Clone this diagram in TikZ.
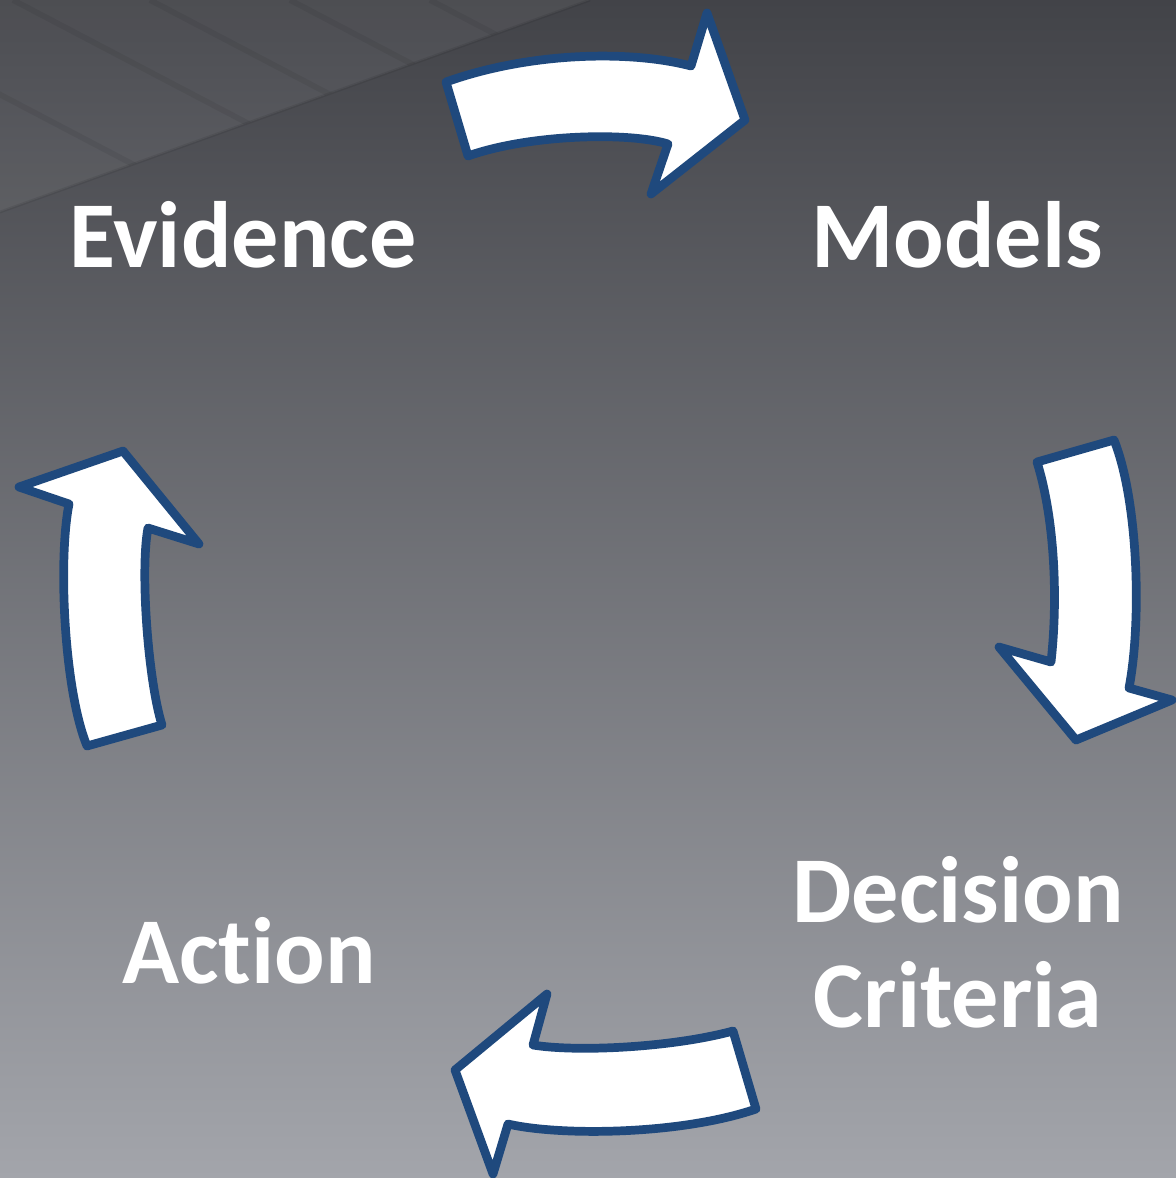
\documentclass[tikz,border=0pt]{standalone}
\usepackage{fontspec}
\setmainfont{Carlito}[Ligatures=NoCommon]
\usetikzlibrary{shadows}

\definecolor{arrowblue}{RGB}{31,73,125}
\definecolor{bgtop}{RGB}{66,67,72}
\definecolor{bgmid}{RGB}{124,126,132}
\definecolor{bgbot}{RGB}{163,165,171}

\tikzset{
  cyclearrow/.style={fill=white, draw=arrowblue, line width=6.2pt, line join=round,
    drop shadow={opacity=0.3, shadow xshift=2pt, shadow yshift=-2pt}},
  steplabel/.style={text=white, font=\bfseries\fontsize{67}{74}\selectfont,
    inner sep=0pt, anchor=base, align=center}
}

\begin{document}
\begin{tikzpicture}[x=0.025cm,y=-0.025cm]
      % background & ceiling corner
      \useasboundingbox (0,0) rectangle (1176,1178);
      \shade[top color=bgtop, middle color=bgmid, bottom color=bgbot] (0,0) rectangle (1176,1178);
      \fill[white, opacity=0.06] (0,0) -- (590,0) -- (0,212) -- cycle;
      \begin{scope}
        \clip (0,0) -- (590,0) -- (0,212) -- cycle;
        \foreach \s in {-180,13,150,290,430}{\draw[black, opacity=0.06, line width=4pt] (\s,0) -- ++(400,210);}
      \end{scope}
      \draw[black, opacity=0.08, line width=2pt] (0,212) -- (590,0);
      % labels
      \node[steplabel] (evidence) at (243,267) {Evidence};
      \node[steplabel] (models) at (957,267) {Models};
      \node[steplabel] (decision) at (958,1027) {Decision\\Criteria};
      \node[steplabel] (action) at (249,983) {Action};
      % evidence -> models
      \draw[cyclearrow] (446,82) .. controls (530,52) and (630,50) .. (691,66)
        -- (707,13) -- (745,120) -- (651,194) -- (668,144)
        .. controls (630,132) and (530,134) .. (468,156) -- cycle;
      % models -> decision criteria
      \draw[cyclearrow] (1037,462) -- (1114,440) .. controls (1138,500) and (1142,620) .. (1129,688)
        -- (1172,700) -- (1076,740) -- (999,647) -- (1051,662)
        .. controls (1058,600) and (1055,520) .. cycle;
      % decision criteria -> action
      \draw[cyclearrow] (733,1031) -- (756,1109) .. controls (680,1135) and (560,1136) .. (508,1124)
        -- (493,1174) -- (455,1070) -- (547,994) -- (533,1045)
        .. controls (575,1052) and (670,1048) .. cycle;
      % action -> evidence
      \draw[cyclearrow] (87,746) -- (162,725) .. controls (148,680) and (140,570) .. (148,528)
        -- (199,544) -- (123,451) -- (19,487) -- (69,504)
        .. controls (58,560) and (64,690) .. cycle;
    \end{tikzpicture}
\end{document}
